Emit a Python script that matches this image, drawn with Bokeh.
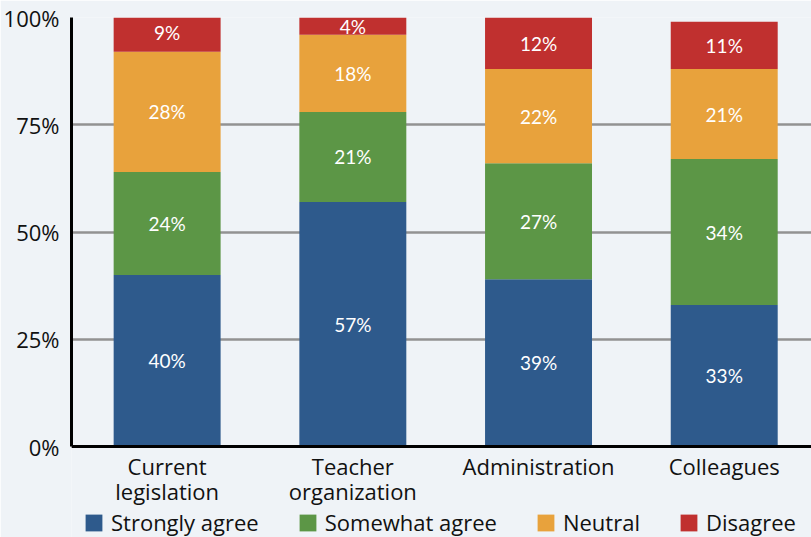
from bokeh.plotting import figure
from bokeh.models import Range1d, FixedTicker, Legend, LegendItem, ColumnDataSource
from bokeh.embed import file_html
from bokeh.resources import INLINE
from bokeh.core.properties import value

# Survey responses by source, in percent
categories = ["Current\nlegislation", "Teacher\norganization", "Administration", "Colleagues"]
strongly_agree = [40, 57, 39, 33]
somewhat_agree = [24, 21, 27, 34]
neutral = [28, 18, 22, 21]
disagree = [9, 4, 12, 11]

series_names = ["Strongly agree", "Somewhat agree", "Neutral", "Disagree"]
series_values = [strongly_agree, somewhat_agree, neutral, disagree]
colors = ["#2e5a8c", "#5c9646", "#e8a23c", "#c0302f"]
y_ticks = [0, 25, 50, 75, 100]

BG = "#eff3f7"
FONT = "Open Sans"

x = list(range(len(categories)))
data = {"x": x}
for name, vals in zip(series_names, series_values):
    data[name] = vals
source = ColumnDataSource(data)

# The frame runs to the bottom of the page; the space under zero holds
# the category labels and the legend.
p = figure(
    frame_width=740, frame_height=520,
    output_backend="svg", toolbar_location=None,
    x_range=Range1d(-0.515, 3.47), y_range=Range1d(-21.2, 100),
    min_border_left=71, min_border_right=0, min_border_top=17, min_border_bottom=0,
    background_fill_color=BG, border_fill_color=BG, outline_line_color=None,
)

renderers = p.vbar_stack(series_names, x="x", width=0.576, fill_color=colors,
                         line_color=None, source=source)

# Percent labels centred in each segment
lx, ly, lt = [], [], []
bottoms = [0] * len(categories)
for vals in series_values:
    for i, v in enumerate(vals):
        lx.append(i)
        ly.append(bottoms[i] + v / 2)
        lt.append(f"{v}%")
        bottoms[i] += v
p.text(x=lx, y=ly, text=lt, text_color="white", text_font=value("Lato"),
       text_font_size="19px", text_align="center", text_baseline="middle")

# Axes
p.xaxis.ticker = FixedTicker(ticks=x)
p.xaxis.major_label_overrides = {i: c for i, c in enumerate(categories)}
p.xaxis.fixed_location = 0
p.yaxis.ticker = FixedTicker(ticks=y_ticks)
p.yaxis.major_label_overrides = {t: f"{t}%" for t in y_ticks}
p.yaxis.bounds = (0, 100)
for ax in (p.xaxis, p.yaxis):
    ax.axis_line_color = "black"
    ax.axis_line_width = 3
    ax.major_tick_line_color = None
    ax.minor_tick_line_color = None
    ax.major_label_text_font = FONT
    ax.major_label_text_font_size = "22px"
    ax.major_label_text_color = "#111111"
p.xaxis.major_label_text_line_height = 0.85
p.yaxis.major_label_standoff = 6
p.xaxis.major_label_standoff = -2

p.xgrid.grid_line_color = None
p.ygrid.grid_line_color = "#929292"
p.ygrid.grid_line_width = 2.5

# Legend along the bottom edge
legend = Legend(
    items=[LegendItem(label=n, renderers=[r]) for n, r in zip(series_names, renderers)],
    orientation="horizontal", location=(12, 0),
    glyph_width=21, glyph_height=21, label_standoff=7, spacing=38,
    padding=0, margin=0, border_line_color=None, background_fill_alpha=0,
    label_text_font=FONT, label_text_font_size="22px", label_text_color="#111111",
)
p.add_layout(legend)

open("out.html", "w").write(file_html(p, INLINE))
